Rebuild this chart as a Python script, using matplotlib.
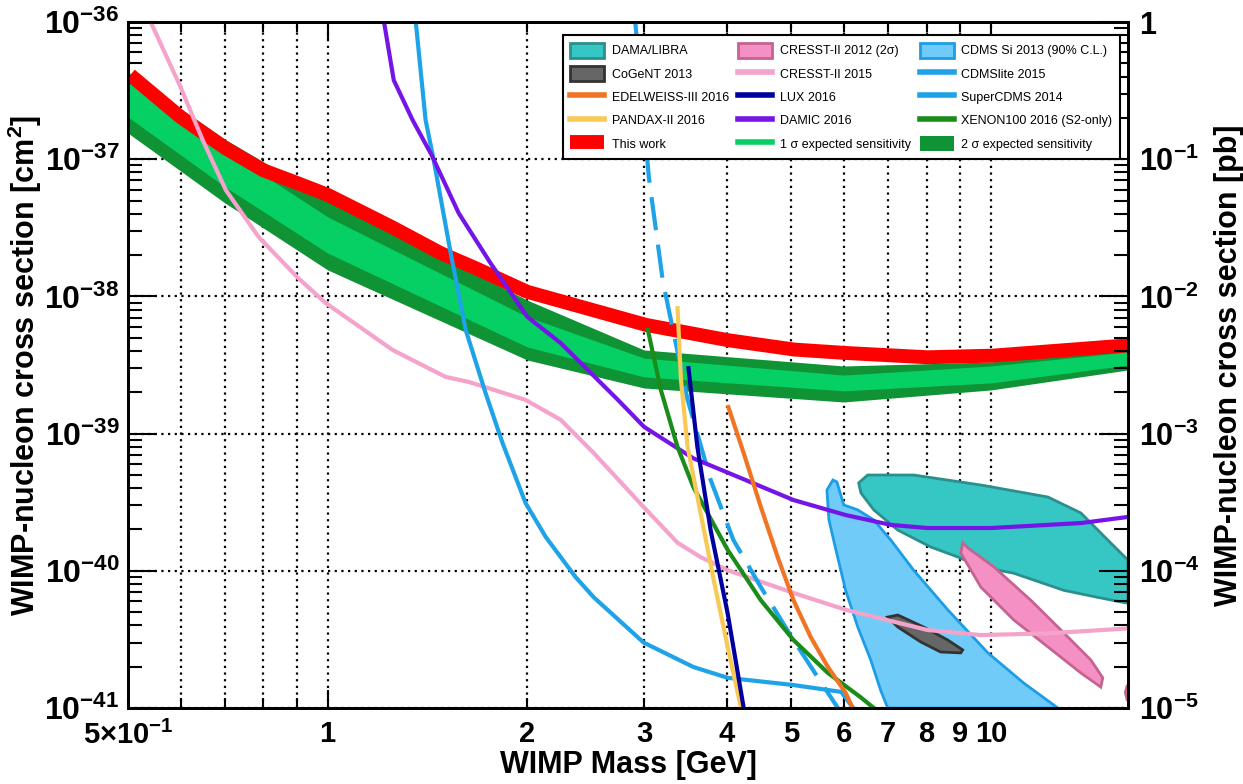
import numpy as np
import matplotlib
matplotlib.use('Agg')
import matplotlib.pyplot as plt
import matplotlib.patches as mpatches
from matplotlib.lines import Line2D
from matplotlib.ticker import FixedLocator, FixedFormatter, LogLocator, NullFormatter

plt.rcParams['font.family'] = ['Liberation Sans', 'DejaVu Sans']
plt.rcParams['mathtext.fontset'] = 'custom'
plt.rcParams['mathtext.rm'] = 'Liberation Sans:bold'
plt.rcParams['mathtext.it'] = 'Liberation Sans:bold'
plt.rcParams['mathtext.bf'] = 'Liberation Sans:bold'
plt.rcParams['mathtext.sf'] = 'Liberation Sans:bold'

# ---------------- data (WIMP mass [GeV], cross section [cm^2]) ----------------
this_work_mass = [0.504, 0.60, 0.70, 0.80, 0.90, 1.0, 1.25, 1.48, 1.67, 2.0, 3.02, 4.01, 5.05, 6.04, 8.03, 10.07, 16.1]
this_work_xsec = [4.11e-37, 2.03e-37, 1.21e-37, 8.3e-38, 6.7e-38, 5.5e-38, 3.2e-38, 2.07e-38, 1.61e-38, 1.08e-38,
                  6.2e-39, 4.8e-39, 4.1e-39, 3.87e-39, 3.6e-39, 3.7e-39, 4.4e-39]

band_mass = [0.5, 0.7, 1.0, 2.0, 3.0, 6.0, 10.0, 16.1]
band2_hi = [4.32e-37, 1.40e-37, 5.05e-38, 9.4e-39, 4.07e-39, 3.11e-39, 3.33e-39, 4.21e-39]
band1_hi = [3.65e-37, 1.17e-37, 3.80e-38, 7.1e-39, 3.55e-39, 2.67e-39, 3.11e-39, 3.94e-39]
band1_lo = [2.03e-37, 6.3e-38, 2.07e-38, 4.28e-39, 2.59e-39, 2.05e-39, 2.34e-39, 3.16e-39]
band2_lo = [1.55e-37, 4.8e-38, 1.56e-38, 3.44e-39, 2.15e-39, 1.70e-39, 2.08e-39, 2.91e-39]

cresst15_mass = [0.52, 0.541, 0.60, 0.648, 0.702, 0.787, 0.90, 0.993, 1.253, 1.506, 1.632, 1.988, 2.246, 2.52,
                 2.995, 3.37, 3.65, 4.01, 5.04, 6.04, 8.03, 9.66, 12.2, 16.1]
cresst15_xsec = [1.5e-36, 1.0e-36, 3.36e-37, 1.38e-37, 5.97e-38, 2.71e-38, 1.38e-38, 8.95e-39, 4.07e-39, 2.59e-39,
                 2.38e-39, 1.76e-39, 1.26e-39, 7.2e-40, 2.92e-40, 1.6e-40, 1.26e-40, 1.01e-40, 6.9e-41, 5.2e-41,
                 3.7e-41, 3.4e-41, 3.5e-41, 3.8e-41]

cdmslite_mass = [1.34, 1.358, 1.405, 1.445, 1.533, 1.615, 1.73, 1.836, 1.988, 2.133, 2.365, 2.52, 2.995, 3.56,
                 4.01, 5.04, 5.95, 6.2]
cdmslite_xsec = [1.3e-36, 1.0e-36, 1.93e-37, 9.9e-38, 2.07e-38, 5.7e-39, 1.98e-39, 8.5e-40, 3.12e-40, 1.76e-40,
                 9.0e-41, 6.4e-41, 3.0e-41, 1.99e-41, 1.66e-41, 1.47e-41, 1.31e-41, 1.0e-41]

supercdms_mass = [2.89, 2.91, 3.05, 3.2, 3.27, 3.49, 3.56, 3.78, 4.09, 4.5, 5.04, 5.68, 5.88]
supercdms_xsec = [1.3e-36, 1.0e-36, 7.4e-38, 1.32e-38, 7.9e-39, 1.76e-39, 1.26e-39, 4.6e-40, 1.68e-40, 7.6e-41,
                  3.13e-41, 1.29e-41, 1.0e-41]

damic_mass = [1.21, 1.215, 1.258, 1.343, 1.435, 1.576, 1.76, 2.0, 2.246, 2.74, 3.0, 3.56, 4.01, 5.04, 6.04, 7.07,
              8.03, 10.0, 13.7, 16.1]
damic_xsec = [1.3e-36, 1.03e-36, 3.77e-37, 1.93e-37, 1.07e-37, 4.05e-38, 1.75e-38, 7.1e-39, 4.57e-39, 1.76e-39,
              1.12e-39, 6.6e-40, 5.2e-40, 3.28e-40, 2.55e-40, 2.16e-40, 2.05e-40, 2.05e-40, 2.23e-40, 2.47e-40]

xenon_mass = [3.04, 3.18, 3.37, 3.56, 4.01, 4.5, 5.04, 5.68, 6.36, 6.66]
xenon_xsec = [5.7e-39, 2.08e-39, 7.98e-40, 4.08e-40, 1.42e-40, 6.1e-41, 3.13e-41, 1.80e-41, 1.2e-41, 1.0e-41]

pandax_mass = [3.37, 3.41, 3.49, 3.65, 3.82, 4.01, 4.2]
pandax_xsec = [8.2e-39, 2.46e-39, 7.98e-40, 2.64e-40, 8.6e-41, 2.79e-41, 1.0e-41]

lux_mass = [3.5, 3.61, 3.78, 4.01, 4.24]
lux_xsec = [3.0e-39, 8.0e-40, 1.98e-40, 4.9e-41, 1.0e-41]

edel_mass = [4.02, 4.24, 4.5, 4.77, 5.04, 5.35, 5.68, 6.04, 6.19]
edel_xsec = [1.56e-39, 7.2e-40, 2.92e-40, 1.26e-40, 6.1e-41, 3.29e-41, 1.99e-41, 1.29e-41, 1.0e-41]

cdms_si_mass = [5.78, 5.66, 5.70, 5.84, 6.04, 6.30, 6.59, 6.82, 6.99, 12.62, 11.21, 9.90, 8.61, 7.65, 7.07, 6.66,
                6.30, 6.00, 5.86]
cdms_si_xsec = [4.59e-40, 3.88e-40, 2.35e-40, 1.42e-40, 7.2e-41, 3.89e-41, 2.24e-41, 1.35e-41, 1.0e-41, 1.0e-41,
                1.52e-41, 2.52e-41, 5.2e-41, 1.01e-40, 1.67e-40, 2.35e-40, 2.78e-40, 3.02e-40, 4.44e-40]

dama_mass = [6.32, 6.52, 7.65, 9.66, 12.19, 13.67, 15.02, 16.09, 16.09, 14.50, 12.89, 10.83, 9.66, 8.92, 8.12,
             7.24, 6.66, 6.37]
dama_xsec = [4.37e-40, 4.99e-40, 4.99e-40, 4.22e-40, 3.45e-40, 2.64e-40, 1.67e-40, 1.2e-40, 5.8e-41, 6.4e-41,
             7.2e-41, 9.6e-41, 1.07e-40, 1.26e-40, 1.49e-40, 1.98e-40, 2.78e-40, 3.69e-40]

cresst12_mass = [9.07, 9.23, 10.10, 11.49, 12.89, 14.15, 14.75, 14.65, 13.67, 12.19, 10.83, 9.66, 9.01]
cresst12_xsec = [1.60e-40, 1.47e-40, 1.07e-40, 6.1e-41, 3.52e-41, 2.24e-41, 1.66e-41, 1.42e-41, 1.80e-41,
                 2.79e-41, 4.38e-41, 7.6e-41, 1.35e-40]

cresst12b_mass = [15.95, 16.05, 16.3, 16.3, 16.05]
cresst12b_xsec = [1.3e-41, 1.45e-41, 1.45e-41, 1.15e-41, 1.15e-41]

cogent_mass = [6.99, 7.24, 7.92, 8.61, 9.07, 9.01, 8.40, 7.84, 7.24]
cogent_xsec = [4.6e-41, 4.76e-41, 3.89e-41, 3.13e-41, 2.65e-41, 2.52e-41, 2.56e-41, 3.03e-41, 3.89e-41]

x_tick_values = [0.5, 1, 2, 3, 4, 5, 6, 7, 8, 9, 10]
x_tick_labels = ['5\u00d710$^{-1}$', '1', '2', '3', '4', '5', '6', '7', '8', '9', '10']
y_exponents = [-41, -40, -39, -38, -37, -36]
pb_exponents = [-5, -4, -3, -2, -1, 0]

# ---------------- colours ----------------
C_DAMA_F, C_DAMA_E = '#36c6c4', '#2b8f8d'
C_COG_F, C_COG_E = '#666666', '#333333'
C_EDEL = '#f07424'
C_PANDA = '#f9c955'
C_RED = '#ff0000'
C_CR12_F, C_CR12_E = '#f590c4', '#c4648f'
C_CR15 = '#f4a3cb'
C_LUX = '#0000a0'
C_DAMIC = '#7414e6'
C_1SIG = '#06cf64'
C_CDMS_F, C_CDMS_E = '#70cbf8', '#1c9de6'
C_CDMSL = '#1ea2e8'
C_XEN = '#1a8c1a'
C_2SIG = '#0f9335'

fig = plt.figure(figsize=(12.43, 7.84), dpi=100)
ax = fig.add_axes([128/1243, 1-708/784, 1000/1243, 686/784])
ax.set_xscale('log')
ax.set_yscale('log')
ax.set_xlim(0.5, 16.1)
ax.set_ylim(1e-41, 1e-36)

# regions
ax.fill(cdms_si_mass, cdms_si_xsec, facecolor=C_CDMS_F, edgecolor=C_CDMS_E, lw=2, zorder=2)
ax.fill(dama_mass, dama_xsec, facecolor=C_DAMA_F, edgecolor=C_DAMA_E, lw=2, zorder=2)
ax.fill(cresst12_mass, cresst12_xsec, facecolor=C_CR12_F, edgecolor=C_CR12_E, lw=2, zorder=2)
ax.fill(cresst12b_mass, cresst12b_xsec, facecolor=C_CR12_F, edgecolor=C_CR12_E, lw=2, zorder=2)
ax.fill(cogent_mass, cogent_xsec, facecolor=C_COG_F, edgecolor=C_COG_E, lw=2, zorder=3)

# expected sensitivity band
ax.fill_between(band_mass, band2_lo, band2_hi, color=C_2SIG, lw=0, zorder=3)
ax.fill_between(band_mass, band1_lo, band1_hi, color=C_1SIG, lw=0, zorder=3)

# this work
ax.plot(this_work_mass, this_work_xsec, color=C_RED, lw=10, solid_capstyle='butt', zorder=4)

lw = 3
ax.plot(cresst15_mass, cresst15_xsec, color=C_CR15, lw=lw, zorder=5)
ax.plot(cdmslite_mass, cdmslite_xsec, color=C_CDMSL, lw=lw, zorder=5)
ax.plot(supercdms_mass, supercdms_xsec, color=C_CDMSL, lw=lw, ls=(0, (8, 3.5)), zorder=5)
ax.plot(damic_mass, damic_xsec, color=C_DAMIC, lw=lw, zorder=5)
ax.plot(xenon_mass, xenon_xsec, color=C_XEN, lw=lw, zorder=5)
ax.plot(pandax_mass, pandax_xsec, color=C_PANDA, lw=lw, zorder=5)
ax.plot(lux_mass, lux_xsec, color=C_LUX, lw=lw, zorder=5)
ax.plot(edel_mass, edel_xsec, color=C_EDEL, lw=lw, zorder=5)

# axes styling
ax.xaxis.set_major_locator(FixedLocator([1, 10]))
ax.xaxis.set_major_formatter(FixedFormatter(['1', '10']))
minor_x = [0.5, 0.6, 0.7, 0.8, 0.9, 2, 3, 4, 5, 6, 7, 8, 9]
ax.xaxis.set_minor_locator(FixedLocator(minor_x))
minor_lab = {v: l for v, l in zip(x_tick_values, x_tick_labels)}
ax.xaxis.set_minor_formatter(FixedFormatter([minor_lab.get(v, '') for v in minor_x]))
ax.yaxis.set_major_locator(FixedLocator([10.0**e for e in y_exponents]))
ax.yaxis.set_major_formatter(FixedFormatter(['10$^{%d}$' % e for e in y_exponents]))
ax.yaxis.set_minor_locator(LogLocator(base=10, subs=np.arange(2, 10), numticks=20))
ax.yaxis.set_minor_formatter(NullFormatter())

ax.tick_params(axis='x', which='both', direction='in', top=True, bottom=True, width=1.5,
               labelsize=21, pad=9)
ax.tick_params(axis='x', which='major', length=13)
ax.tick_params(axis='x', which='minor', length=7)
ax.tick_params(axis='y', which='both', direction='in', left=True, right=False, width=1.5,
               labelsize=23, pad=6)
ax.tick_params(axis='y', which='major', length=21)
ax.tick_params(axis='y', which='minor', length=10)
for lab in ax.get_xticklabels(which='both') + ax.get_yticklabels():
    lab.set_fontweight('bold')

dot = (0, (1, 2))
ax.grid(True, axis='x', which='both', color='black', ls=dot, lw=1.6, zorder=1)
ax.grid(True, axis='y', which='major', color='black', ls=dot, lw=1.6, zorder=1)
ax.set_axisbelow(True)
for s in ax.spines.values():
    s.set_linewidth(2)

ax.set_xlabel('WIMP Mass [GeV]', fontsize=22, fontweight='bold', labelpad=0)
ax.set_ylabel('WIMP-nucleon cross section [cm$^{2}$]', fontsize=22, fontweight='bold')
ax.yaxis.set_label_coords(-0.084, 0.5)

# right axis in pb
ax2 = ax.twinx()
ax2.set_yscale('log')
ax2.set_ylim(1e-5, 1)
ax2.yaxis.set_major_locator(FixedLocator([10.0**e for e in pb_exponents]))
ax2.yaxis.set_major_formatter(FixedFormatter(['1' if e == 0 else '10$^{%d}$' % e for e in pb_exponents]))
ax2.yaxis.set_minor_locator(LogLocator(base=10, subs=np.arange(2, 10), numticks=20))
ax2.yaxis.set_minor_formatter(NullFormatter())
ax2.tick_params(axis='y', which='both', direction='in', width=1.5, labelsize=22, pad=8)
ax2.tick_params(axis='y', which='major', length=21)
ax2.tick_params(axis='y', which='minor', length=10)
for lab in ax2.get_yticklabels():
    lab.set_fontweight('bold')
ax2.set_ylabel('WIMP-nucleon cross section [pb]', fontsize=22, fontweight='bold', labelpad=10)
for s in ax2.spines.values():
    s.set_linewidth(2)

# legend
handles = [
    mpatches.Patch(facecolor=C_DAMA_F, edgecolor=C_DAMA_E, lw=2),
    mpatches.Patch(facecolor=C_COG_F, edgecolor=C_COG_E, lw=2),
    Line2D([], [], color=C_EDEL, lw=4),
    Line2D([], [], color=C_PANDA, lw=4),
    Line2D([], [], color=C_RED, lw=10, solid_capstyle='butt'),
    mpatches.Patch(facecolor=C_CR12_F, edgecolor=C_CR12_E, lw=2),
    Line2D([], [], color=C_CR15, lw=4),
    Line2D([], [], color=C_LUX, lw=4),
    Line2D([], [], color=C_DAMIC, lw=4),
    Line2D([], [], color=C_1SIG, lw=4),
    mpatches.Patch(facecolor=C_CDMS_F, edgecolor=C_CDMS_E, lw=2),
    Line2D([], [], color=C_CDMSL, lw=4),
    Line2D([], [], color=C_CDMSL, lw=4),
    Line2D([], [], color=C_XEN, lw=4),
    mpatches.Patch(facecolor=C_2SIG, edgecolor=C_2SIG, lw=0),
]
labels = ['DAMA/LIBRA', 'CoGeNT 2013', 'EDELWEISS-III 2016', 'PANDAX-II 2016', 'This work',
          'CRESST-II 2012 (2\u03c3)', 'CRESST-II 2015', 'LUX 2016', 'DAMIC 2016', '1 \u03c3 expected sensitivity',
          'CDMS Si 2013 (90% C.L.)', 'CDMSlite 2015', 'SuperCDMS 2014', 'XENON100 2016 (S2-only)',
          '2 \u03c3 expected sensitivity']
leg = ax2.legend(handles, labels, ncol=3, loc='upper left',
                 bbox_to_anchor=(0.435, 0.780, 0.557, 0.201), mode='expand', borderaxespad=0,
                 fancybox=False, framealpha=1, edgecolor='black', fontsize=9,
                 handlelength=2.7, handleheight=1.5, labelspacing=0.65, handletextpad=0.6,
                 columnspacing=0.4, borderpad=0.6)
leg.get_frame().set_linewidth(1.5)

fig.savefig('out.png', dpi=100)
